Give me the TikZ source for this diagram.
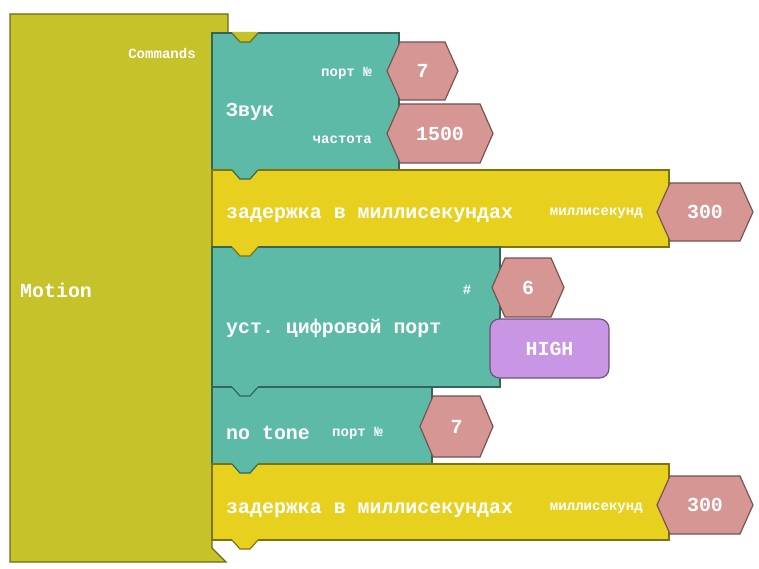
\documentclass[tikz,border=0pt]{standalone}
\usepackage{fontspec}
\setmonofont{Liberation Mono}
\usepackage{xcolor}
\usepackage{tikz}

\definecolor{ctrlolive}{RGB}{198,194,42}
\definecolor{blockteal}{RGB}{92,186,166}
\definecolor{blockyellow}{RGB}{232,208,30}
\definecolor{valpink}{RGB}{214,150,148}
\definecolor{valpurple}{RGB}{200,150,228}

\tikzset{
  bigtext/.style={text=white,font=\ttfamily\bfseries\fontsize{17}{20}\selectfont,inner sep=0pt},
  smalltext/.style={text=white,font=\ttfamily\bfseries\fontsize{12}{14}\selectfont,inner sep=0pt},
  blockbox/.style={fill=#1,draw=#1!55!black,line width=1pt},
}

% value socket: name, left x, right x, top y, bottom y, text
\newcommand\valhex[6]{%
  \draw[fill=valpink,draw=valpink!55!black,line width=1pt]
    (#2,{(#4+#5)/2}) -- (#2+13,#4) -- (#3-13,#4) -- (#3,{(#4+#5)/2}) -- (#3-13,#5) -- (#2+13,#5) -- cycle;
  \node[bigtext] (#1) at ({(#2+#3)/2},{(#4+#5)/2}) {#6};}

% connector tab under a block: colour, y of the bottom edge
\newcommand\btab[2]{%
  \fill[#1] (232,#2-1) -- (232,#2) -- (240,#2+9) -- (250,#2+9) -- (258,#2) -- (258,#2-1) -- cycle;
  \draw[#1!55!black,line width=1pt] (232,#2) -- (240,#2+9) -- (250,#2+9) -- (258,#2);}

\begin{document}
\begin{tikzpicture}[x=0.03cm,y=-0.03cm]
    \useasboundingbox (0,0) rectangle (759,569);
    % control block
    \draw[blockbox=ctrlolive] (10,14) -- (228,14) -- (228,33) -- (212,33) -- (212,548) -- (226,562) -- (10,562) -- cycle;
    \node[smalltext,anchor=east] (commands) at (196,53) {Commands};
    \node[bigtext,anchor=west] (motion) at (20,290) {Motion};
    % statement blocks
    \draw[blockbox=blockteal] (212,33) rectangle (399,170);
    \draw[blockbox=blockyellow] (212,170) rectangle (669,247);
    \draw[blockbox=blockteal] (212,247) rectangle (500,387);
    \draw[blockbox=blockteal] (212,387) rectangle (432,464);
    \draw[blockbox=blockyellow] (212,464) rectangle (669,540);
    \btab{ctrlolive}{33}
    \btab{blockteal}{170}
    \btab{blockyellow}{247}
    \btab{blockteal}{387}
    \btab{blockteal}{464}
    \btab{blockyellow}{540}
    % labels
    \node[bigtext,anchor=west] (sound) at (226,112) {Звук};
    \node[smalltext,anchor=east] (soundport) at (372,73) {порт №};
    \node[smalltext,anchor=east] (soundfreq) at (372,140) {частота};
    \node[bigtext,anchor=west] (delayA) at (226,215) {задержка в миллисекундах};
    \node[smalltext,anchor=east] (delayAms) at (643,213) {миллисекунд};
    \node[bigtext,anchor=west] (digital) at (226,328) {уст. цифровой порт};
    \node[smalltext] (digitalno) at (467,290) {\#};
    \node[bigtext,anchor=west] (notone) at (226,433) {no tone};
    \node[smalltext,anchor=east] (notoneport) at (383,433) {порт №};
    \node[bigtext,anchor=west] (delayB) at (226,510) {задержка в миллисекундах};
    \node[smalltext,anchor=east] (delayBms) at (643,508) {миллисекунд};
    % values
    \valhex{portA}{387}{458}{42}{100}{7}
    \valhex{freq}{387}{493}{104}{163}{1500}
    \valhex{msA}{657}{753}{183}{241}{300}
    \valhex{pinD}{492}{564}{258}{317}{6}
    \draw[fill=valpurple,draw=valpurple!55!black,line width=1pt,rounded corners=8pt] (490,319) rectangle (609,378);
    \node[bigtext] (high) at (549.5,348.5) {HIGH};
    \valhex{portB}{420}{493}{396}{457}{7}
    \valhex{msB}{657}{753}{476}{534}{300}
\end{tikzpicture}
\end{document}
